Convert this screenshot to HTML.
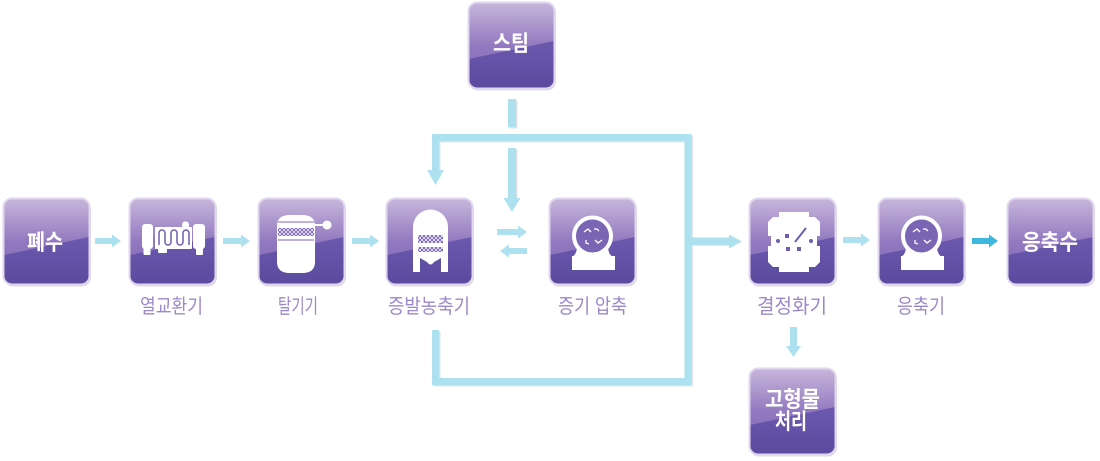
<!DOCTYPE html>
<html><head><meta charset="utf-8">
<style>
html,body{margin:0;padding:0;background:#fff;}
svg{display:block;}
.bt{font-family:"Liberation Sans","Noto Sans CJK KR",sans-serif;font-weight:bold;font-size:22px;fill:#fff;text-anchor:middle;}
.lb{font-family:"Liberation Sans","Noto Sans CJK KR",sans-serif;font-size:20px;fill:#9c88c8;text-anchor:middle;}
</style></head>
<body>
<svg width="1100" height="461" viewBox="0 0 1100 461" xmlns="http://www.w3.org/2000/svg">
<defs>
  <linearGradient id="bg" x1="0" y1="0" x2="0" y2="1">
    <stop offset="0" stop-color="#c9b7dc"/>
    <stop offset="0.5" stop-color="#9279c0"/>
    <stop offset="1" stop-color="#7d65b3"/>
  </linearGradient>
  <linearGradient id="dk" x1="0" y1="0" x2="0" y2="1">
    <stop offset="0" stop-color="#6b59ae"/>
    <stop offset="1" stop-color="#5a4b9f"/>
  </linearGradient>
  <pattern id="hatch" width="4" height="4" patternUnits="userSpaceOnUse">
    <rect width="4" height="4" fill="#fff"/>
    <path d="M0,0 L4,4 M4,0 L0,4" stroke="#7a66b4" stroke-width="1"/>
  </pattern>
  <symbol id="box" viewBox="0 0 90 90">
    <rect x="2" y="2.5" width="87" height="87" rx="9" fill="#000" opacity="0.13"/>
    <rect x="1" y="1" width="87" height="87" rx="9" fill="url(#bg)"/>
    <path d="M2,58 Q40,50 87,40 L87,79 Q87,87 79,87 L10,87 Q2,87 2,79 Z" fill="url(#dk)"/>
    <rect x="1.5" y="1.5" width="86" height="86" rx="8.5" fill="none" stroke="#e0d6ee" stroke-width="2"/>
  </symbol>
</defs>

<!-- connector shadows -->
<g fill="none" stroke="#cfd6da" stroke-width="7" opacity="0.7" transform="translate(1.5,1.5)">
  <polyline points="435.5,330 435.5,381.5 688,381.5 688,137.5 435.5,137.5 435.5,172"/>
  <line x1="512" y1="99" x2="512" y2="127" stroke-width="8"/>
  <line x1="512" y1="148" x2="512" y2="199" stroke-width="8"/>
</g>
<!-- loop connectors -->
<g fill="none" stroke="#aee1f0" stroke-width="7">
  <polyline points="435.5,330 435.5,381.5 688,381.5 688,137.5 435.5,137.5 435.5,172"/>
  <line x1="512" y1="99" x2="512" y2="127" stroke-width="8"/>
  <line x1="512" y1="148" x2="512" y2="199" stroke-width="8"/>
  <line x1="793.5" y1="327" x2="793.5" y2="347" stroke-width="7"/>
</g>
<g fill="#aee1f0">
  <polygon points="427,170 444,170 435.5,185"/>
  <polygon points="503.5,198 520.5,198 512,212"/>
  <polygon points="786,346 801,346 793.5,357"/>
  <polygon points="691,237.5 729,237.5 729,234.5 742,241.5 729,248.5 729,245.5 691,245.5"/>
  <polygon points="95,238 112,238 112,234.5 121,241 112,247.5 112,244 95,244"/>
  <polygon points="223,238 241,238 241,234.5 250,241 241,247.5 241,244 223,244"/>
  <polygon points="352,238 370,238 370,234.5 379,241 370,247.5 370,244 352,244"/>
  <polygon points="497,229 518,229 518,225.5 527,232 518,238.5 518,235 497,235"/>
  <polygon points="527,248 509,248 509,244.5 500,251 509,257.5 509,254 527,254"/>
  <polygon points="843,237 861,237 861,233.5 870,240 861,246.5 861,243 843,243"/>
</g>
<polygon fill="#3fb6db" points="972,238 989,238 989,234.5 998,241 989,247.5 989,244 972,244"/>

<!-- boxes -->
<use href="#box" x="467" y="1" width="90" height="90"/>
<use href="#box" x="2" y="197" width="90" height="90"/>
<use href="#box" x="128" y="197" width="90" height="90"/>
<use href="#box" x="257" y="197" width="90" height="90"/>
<use href="#box" x="385" y="197" width="90" height="90"/>
<use href="#box" x="548" y="197" width="90" height="90"/>
<use href="#box" x="748" y="197" width="90" height="90"/>
<use href="#box" x="877" y="197" width="90" height="90"/>
<use href="#box" x="1006" y="197" width="90" height="90"/>
<use href="#box" x="748" y="367" width="90" height="90"/>

<!-- box texts -->
<text class="bt" x="511" y="51" textLength="36" lengthAdjust="spacingAndGlyphs">스팀</text>
<text class="bt" x="45" y="250" textLength="36" lengthAdjust="spacingAndGlyphs">폐수</text>
<text class="bt" x="1050" y="250" textLength="56" lengthAdjust="spacingAndGlyphs">응축수</text>
<text class="bt" x="792.5" y="407" textLength="55" lengthAdjust="spacingAndGlyphs">고형물</text>
<text class="bt" x="791" y="429" textLength="32" lengthAdjust="spacingAndGlyphs">처리</text>

<!-- icon: 열교환기 -->
<g fill="#fff">
  <rect x="142" y="224" width="11" height="25" rx="3"/>
  <rect x="143.5" y="247" width="7" height="8" rx="1"/>
  <rect x="155" y="227" width="37" height="22" rx="1"/>
  <rect x="182" y="221.5" width="7" height="7" rx="3"/>
  <rect x="158" y="247" width="9" height="6" rx="1"/>
  <rect x="193" y="224" width="12" height="25" rx="3"/>
  <rect x="196" y="247" width="7" height="8" rx="1"/>
</g>
<path d="M159,245 V233 a3,3 0 0 1 6,0 V242 a3,3 0 0 0 6,0 V233 a3,3 0 0 1 6,0 V242 a3,3 0 0 0 6,0 V233 a3,3 0 0 1 6,0 V245" fill="none" stroke="#6f5db0" stroke-width="1.5"/>

<!-- icon: 탈기기 -->
<path d="M277,226 Q277,215 290,215 H302 Q315,215 315,226 V262 Q315,273 302,273 H290 Q277,273 277,262 Z" fill="#fff"/>
<line x1="278" y1="222" x2="314" y2="222" stroke="#7a66b4" stroke-width="1"/>
<rect x="278" y="228" width="36" height="8" fill="url(#hatch)"/>
<line x1="278" y1="240" x2="314" y2="240" stroke="#7a66b4" stroke-width="1"/>
<line x1="314" y1="225" x2="323" y2="225" stroke="#fff" stroke-width="2"/>
<circle cx="327" cy="225" r="4.5" fill="#fff"/>

<!-- icon: 증발농축기 -->
<path d="M413,272 V227 A17.5,17.5 0 0 1 448,227 V272 H441 V258 L434,262 Q430.5,267 427,262 L420,258 V272 Z" fill="#fff"/>
<rect x="418" y="235" width="25" height="8" fill="url(#hatch)"/>
<rect x="418" y="247" width="25" height="5" fill="url(#hatch)"/>

<!-- icon: 증기압축 -->
<g id="comp">
  <path d="M577,248 Q576,256 571,257 H614 Q609,256 608,248 Z" fill="#fff"/>
  <rect x="572" y="256" width="43" height="14" fill="#fff"/>
  <circle cx="592.5" cy="236" r="18.5" fill="#7a64b4" stroke="#fff" stroke-width="4"/>
  <path d="M584,232 l4,-3 l3,3 M595,240 l3,3 l4,-3 M586,240 l0,3 l3,1 M599,231 l-2,-2 l-3,0" fill="none" stroke="#fff" stroke-width="1.3"/>
</g>
<use href="#comp" x="329" y="0"/>

<!-- icon: 결정화기 -->
<path d="M779,212 H809 V217 H815 L820,222 V236 H817 V246 H820 V262 L815,267 H809 V272 H779 V267 H773 L768,262 V246 H771 V236 H768 V222 L773,217 H779 Z" fill="#fff"/>
<g fill="#6f5db0">
  <circle cx="778" cy="241" r="2"/>
  <circle cx="811" cy="241" r="2"/>
  <rect x="785" y="234" width="4" height="4"/>
  <rect x="786" y="247" width="4" height="4"/>
  <rect x="797" y="247" width="4" height="4"/>
</g>
<line x1="795" y1="242" x2="806" y2="228" stroke="#6f5db0" stroke-width="2"/>

<!-- labels -->
<text class="lb" x="171.5" y="313" textLength="63" lengthAdjust="spacingAndGlyphs">열교환기</text>
<text class="lb" x="298" y="313" textLength="40" lengthAdjust="spacingAndGlyphs">탈기기</text>
<text class="lb" x="429" y="313" textLength="82" lengthAdjust="spacingAndGlyphs">증발농축기</text>
<text class="lb" x="592.5" y="313" textLength="69" lengthAdjust="spacingAndGlyphs">증기 압축</text>
<text class="lb" x="792" y="313" textLength="70" lengthAdjust="spacingAndGlyphs">결정화기</text>
<text class="lb" x="921" y="313" textLength="48" lengthAdjust="spacingAndGlyphs">응축기</text>
</svg>
</body></html>
